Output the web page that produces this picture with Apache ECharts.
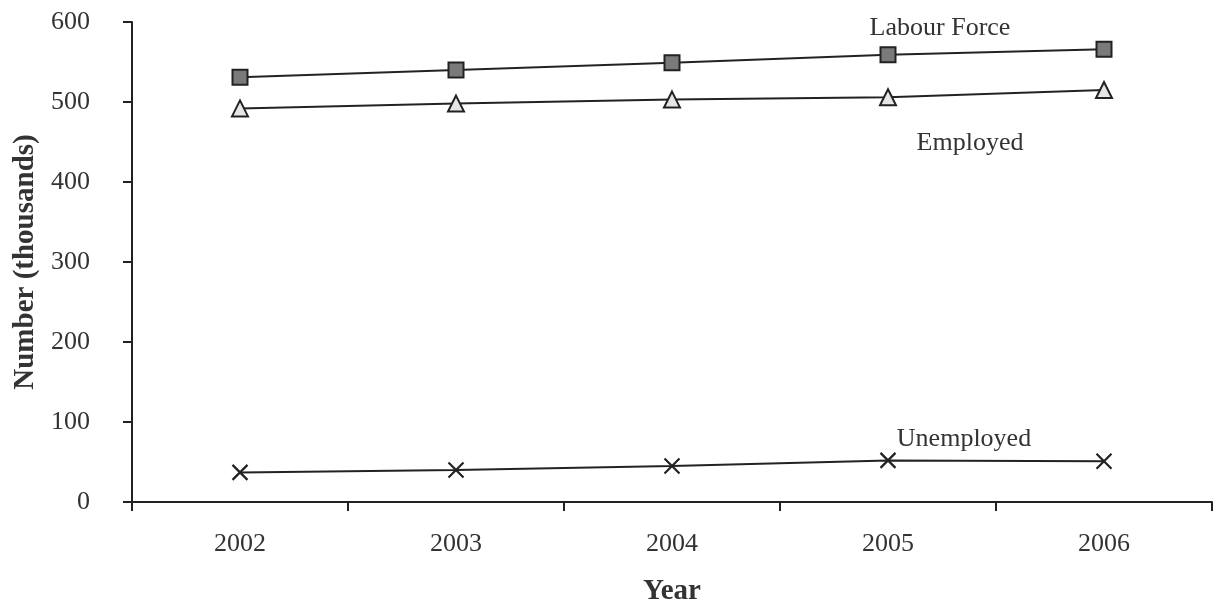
<!DOCTYPE html>
<html>
<head>
<meta charset="utf-8">
<script src="https://cdn.jsdelivr.net/npm/echarts@6/dist/echarts.min.js"></script>
<style>html,body{margin:0;padding:0;background:#fff}#c{width:1221px;height:605px}</style>
</head>
<body>
<div id="c"></div>
<script>
const years = ['2002', '2003', '2004', '2005', '2006'];
const labourForce = [531, 540, 549, 559, 566];
const employed = [492, 498, 503, 506, 515];
const unemployed = [37, 40, 45, 52, 51];
const yTicks = [0, 100, 200, 300, 400, 500, 600];

const FONT = '"Liberation Serif", "DejaVu Serif", serif';
const INK = '#222';

function withLabel(values, text, offset) {
  return values.map((v, i) => i === 3 ? {
    value: v,
    label: {
      show: true, formatter: text, position: 'inside', offset: offset,
      fontFamily: FONT, fontSize: 26, color: '#333'
    }
  } : v);
}

const chart = echarts.init(document.getElementById('c'));
chart.setOption({
  backgroundColor: '#fff',
  animation: false,
  grid: { left: 132, right: 9, top: 22, bottom: 103, outerBoundsMode: 'none', containLabel: false },
  xAxis: {
    type: 'category', data: years, boundaryGap: true,
    name: 'Year', nameLocation: 'middle', nameGap: 75,
    nameTextStyle: { fontFamily: FONT, fontSize: 29, fontWeight: 'bold', color: '#333' },
    axisLine: { lineStyle: { color: INK, width: 2 } },
    axisTick: { show: true, length: 9, lineStyle: { color: INK, width: 2 } },
    axisLabel: { fontFamily: FONT, fontSize: 26, color: '#333', margin: 29 }
  },
  yAxis: {
    type: 'value', min: yTicks[0], max: yTicks[yTicks.length - 1], interval: 100,
    name: 'Number (thousands)', nameLocation: 'middle', nameGap: 90, nameRotate: 90,
    nameTextStyle: { fontFamily: FONT, fontSize: 29, fontWeight: 'bold', color: '#333' },
    splitLine: { show: false },
    axisLine: { show: true, lineStyle: { color: INK, width: 2 } },
    axisTick: { show: true, length: 9, lineStyle: { color: INK, width: 2 } },
    axisLabel: { fontFamily: FONT, fontSize: 26, color: '#333', margin: 42 }
  },
  series: [
    {
      name: 'Labour Force', type: 'line', data: withLabel(labourForce, 'Labour Force', [52, -27]),
      symbol: 'rect', symbolSize: 15,
      lineStyle: { color: INK, width: 2 },
      itemStyle: { color: '#7a7a7a', borderColor: INK, borderWidth: 2 }
    },
    {
      name: 'Employed', type: 'line', data: withLabel(employed, 'Employed', [82, 46]),
      symbol: 'triangle', symbolSize: 16,
      lineStyle: { color: INK, width: 2 },
      itemStyle: { color: '#e6e6e6', borderColor: INK, borderWidth: 2 }
    },
    {
      name: 'Unemployed', type: 'line', data: withLabel(unemployed, 'Unemployed', [76, -21]),
      symbol: 'path://M0,0L10,10M10,0L0,10', symbolSize: 15,
      lineStyle: { color: INK, width: 2 },
      itemStyle: { color: 'none', borderColor: INK, borderWidth: 2.2 }
    }
  ]
});
</script>
</body>
</html>
